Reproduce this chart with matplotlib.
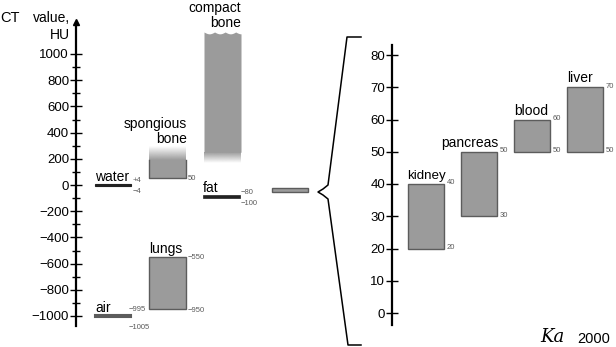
import numpy as np
import matplotlib
matplotlib.use("Agg")
import matplotlib.pyplot as plt
from matplotlib.ticker import FixedLocator

plt.rcParams['font.family'] = ['Liberation Sans', 'DejaVu Sans']

# ---------------- data ----------------
# left scale (HU, wide range)
air = (-1005, -995)
lungs = (-950, -550)
fat = (-100, -80)
water = (-4, 4)
spongious = (50, 190, 290)     # bottom, solid top, fade end
compact = (250, 170, 1168)     # solid bottom, fade end, top
soft_summary = (-50, -23)      # small bar representing the zoomed range
left_ticks = list(range(-1000, 1001, 200))
left_minor = list(range(-900, 1000, 200))

# right scale (HU, soft tissue)
organs = ['kidney', 'pancreas', 'blood', 'liver']
organ_low = [20, 30, 50, 50]
organ_high = [40, 50, 60, 70]
right_ticks = list(range(0, 81, 10))

FACE = '#9b9b9b'
EDGE = '#5c5c5c'
SMALL = '#5a5a5a'

fig = plt.figure(figsize=(6.16, 3.47), dpi=100)

# pixel -> value mappings for axes covering the whole figure
def lv(p):  # left
    return (185 - p) / 0.131

def rv(p):  # right
    return (313 - p) / 3.225

def px_off(dx, dy):
    return (dx * 0.72, dy * 0.72)

# ---------------- left axes ----------------
ax = fig.add_axes([0, 0, 1, 1])
ax.patch.set_visible(False)
ax.set_xlim(0, 616)
ax.set_ylim(lv(347), lv(0))
for s in ['top', 'right', 'bottom']:
    ax.spines[s].set_visible(False)
ax.spines['left'].set_position(('data', 76))
ax.spines['left'].set_bounds(lv(326), lv(24))
ax.spines['left'].set_linewidth(1.6)
ax.xaxis.set_visible(False)
ax.set_yticks(left_ticks)
ax.yaxis.set_minor_locator(FixedLocator(left_minor))
ax.tick_params(axis='y', which='major', direction='inout', length=8, width=1,
               labelsize=9.5, pad=1)
ax.tick_params(axis='y', which='minor', direction='inout', length=6, width=1)
ax.plot([76], [lv(22)], marker='^', ms=5, color='k', clip_on=False)

ax.text(0, lv(18), 'CT', fontsize=10.5, va='center', ha='left')
ax.text(70, lv(18), 'value,', fontsize=10, va='center', ha='right')
ax.text(70, lv(35), 'HU', fontsize=10, va='center', ha='right')

def sm(a, x, v, s, dy=0, ha='left'):
    a.annotate(s, (x, v), xytext=px_off(0, dy), textcoords='offset points',
               fontsize=5.5, color=SMALL, ha=ha, va='center')

# air
ax.bar(113, air[1] - air[0], bottom=air[0], width=36, color=FACE,
       edgecolor=EDGE, linewidth=1.5)
ax.text(95, air[1], 'air', fontsize=10, ha='left', va='bottom')
sm(ax, 129, air[1], '−995', dy=6)
sm(ax, 129, air[0], '−1005', dy=-11)

# lungs
ax.bar(167.5, lungs[1] - lungs[0], bottom=lungs[0], width=37, color=FACE,
       edgecolor=EDGE, linewidth=1)
ax.text(149, lungs[1] + 8, 'lungs', fontsize=10, ha='left', va='bottom')
sm(ax, 188, lungs[1], '−550')
sm(ax, 188, lungs[0], '−950', dy=-1.5)

# water
ax.bar(113, water[1] - water[0], bottom=water[0], width=36, color='#222222',
       edgecolor='#222222', linewidth=0.8)
ax.text(95, water[1] + 6, 'water', fontsize=10, ha='left', va='bottom')
sm(ax, 133, water[1], '+4', dy=3.5)
sm(ax, 133, water[0], '−4', dy=-5.5)

# fat
ax.bar(221.5, fat[1] - fat[0], bottom=fat[0], width=37, color='#222222',
       edgecolor='#222222', linewidth=0.5)
ax.text(203, fat[1] + 5, 'fat', fontsize=10, ha='left', va='bottom')
sm(ax, 241, fat[1], '−80', dy=2.5)
sm(ax, 241, fat[0], '−100', dy=-5)

# small summary bar
ax.bar(290, soft_summary[1] - soft_summary[0], bottom=soft_summary[0], width=36,
       color=FACE, edgecolor=EDGE, linewidth=1)

# gradient helper
def grad(a, x0, x1, v0, v1, solid_at_bottom=True):
    n = 64
    g = np.linspace(1, 0, n) if solid_at_bottom else np.linspace(0, 1, n)
    c = np.array(matplotlib.colors.to_rgb(FACE))
    rgba = np.zeros((n, 1, 4))
    rgba[..., :3] = c
    rgba[:, 0, 3] = g
    a.imshow(rgba, extent=(x0, x1, v0, v1), origin='lower', aspect='auto',
             interpolation='bilinear', zorder=2)

# spongious bone
sb_x0, sb_x1 = 149, 186
ax.bar((sb_x0 + sb_x1) / 2, spongious[1] - spongious[0], bottom=spongious[0],
       width=sb_x1 - sb_x0, color=FACE, linewidth=0, zorder=2)
ax.plot([sb_x0, sb_x0, sb_x1, sb_x1], [spongious[1], spongious[0], spongious[0], spongious[1]],
        color=EDGE, lw=1, zorder=3)
grad(ax, sb_x0, sb_x1, spongious[1], spongious[2], solid_at_bottom=True)
ax.text(187, spongious[2] + 5, 'spongious\nbone', fontsize=10, ha='right',
        va='bottom', linespacing=1.15)
sm(ax, 188, spongious[0], '50')

# compact bone with wavy top
cb_x0, cb_x1 = 204, 241
xs = np.linspace(cb_x0, cb_x1, 200)
top = compact[2] - 14 * np.abs(np.sin(np.pi * 3.5 * (xs - cb_x0) / (cb_x1 - cb_x0)))
ax.fill_between(xs, compact[0], top, color=FACE, linewidth=0, zorder=2)
grad(ax, cb_x0, cb_x1, compact[1], compact[0], solid_at_bottom=False)
ax.text(241, compact[2] + 12, 'compact\nbone', fontsize=10, ha='right',
        va='bottom', linespacing=1.15)

ax.set_xlim(0, 616)
ax.set_ylim(lv(347), lv(0))

# ---------------- right axes ----------------
ax2 = fig.add_axes([0, 0, 1, 1])
ax2.patch.set_visible(False)
ax2.set_xlim(0, 616)
ax2.set_ylim(rv(347), rv(0))
for s in ['top', 'right', 'bottom']:
    ax2.spines[s].set_visible(False)
ax2.spines['left'].set_position(('data', 392))
ax2.spines['left'].set_bounds(rv(325), rv(45))
ax2.spines['left'].set_linewidth(1.6)
ax2.xaxis.set_visible(False)
ax2.set_yticks(right_ticks)
ax2.tick_params(axis='y', which='major', direction='inout', length=8, width=1,
                labelsize=9.5, pad=1)

org_x0 = [408, 461, 514, 567]
org_w = 36
for name, lo, hi, x0 in zip(organs, organ_low, organ_high, org_x0):
    ax2.bar(x0 + org_w / 2, hi - lo, bottom=lo, width=org_w, color=FACE,
            edgecolor=EDGE, linewidth=1)
    if name == 'pancreas':
        ax2.text(x0 + org_w + 1, hi + 0.6, name, fontsize=10, ha='right', va='bottom')
    elif name == 'kidney':
        ax2.text(x0 - 1, hi + 0.6, name, fontsize=9.6, ha='left', va='bottom')
    else:
        ax2.text(x0, hi + 0.6, name, fontsize=10, ha='left', va='bottom')
    sm(ax2, x0 + org_w + 3, hi, str(hi), dy=1)
    sm(ax2, x0 + org_w + 3, lo, str(lo), dy=1)

# ---------------- overlay (brace, signature) ----------------
ax3 = fig.add_axes([0, 0, 1, 1])
ax3.patch.set_visible(False)
ax3.set_xlim(0, 616)
ax3.set_ylim(347, 0)
ax3.axis('off')
bx = [361, 347, 328, 323, 318, 323, 328, 348, 361]
by = [37, 37, 185, 189, 192, 195, 199, 345, 345]
ax3.plot(bx, by, color='k', lw=1.1)
ax3.text(540, 346, 'Ka', fontsize=13, style='italic', family='DejaVu Serif',
         ha='left', va='bottom')
ax3.text(577, 339, '2000', fontsize=10.5, ha='left', va='center')

fig.savefig('out.png', dpi=100)
